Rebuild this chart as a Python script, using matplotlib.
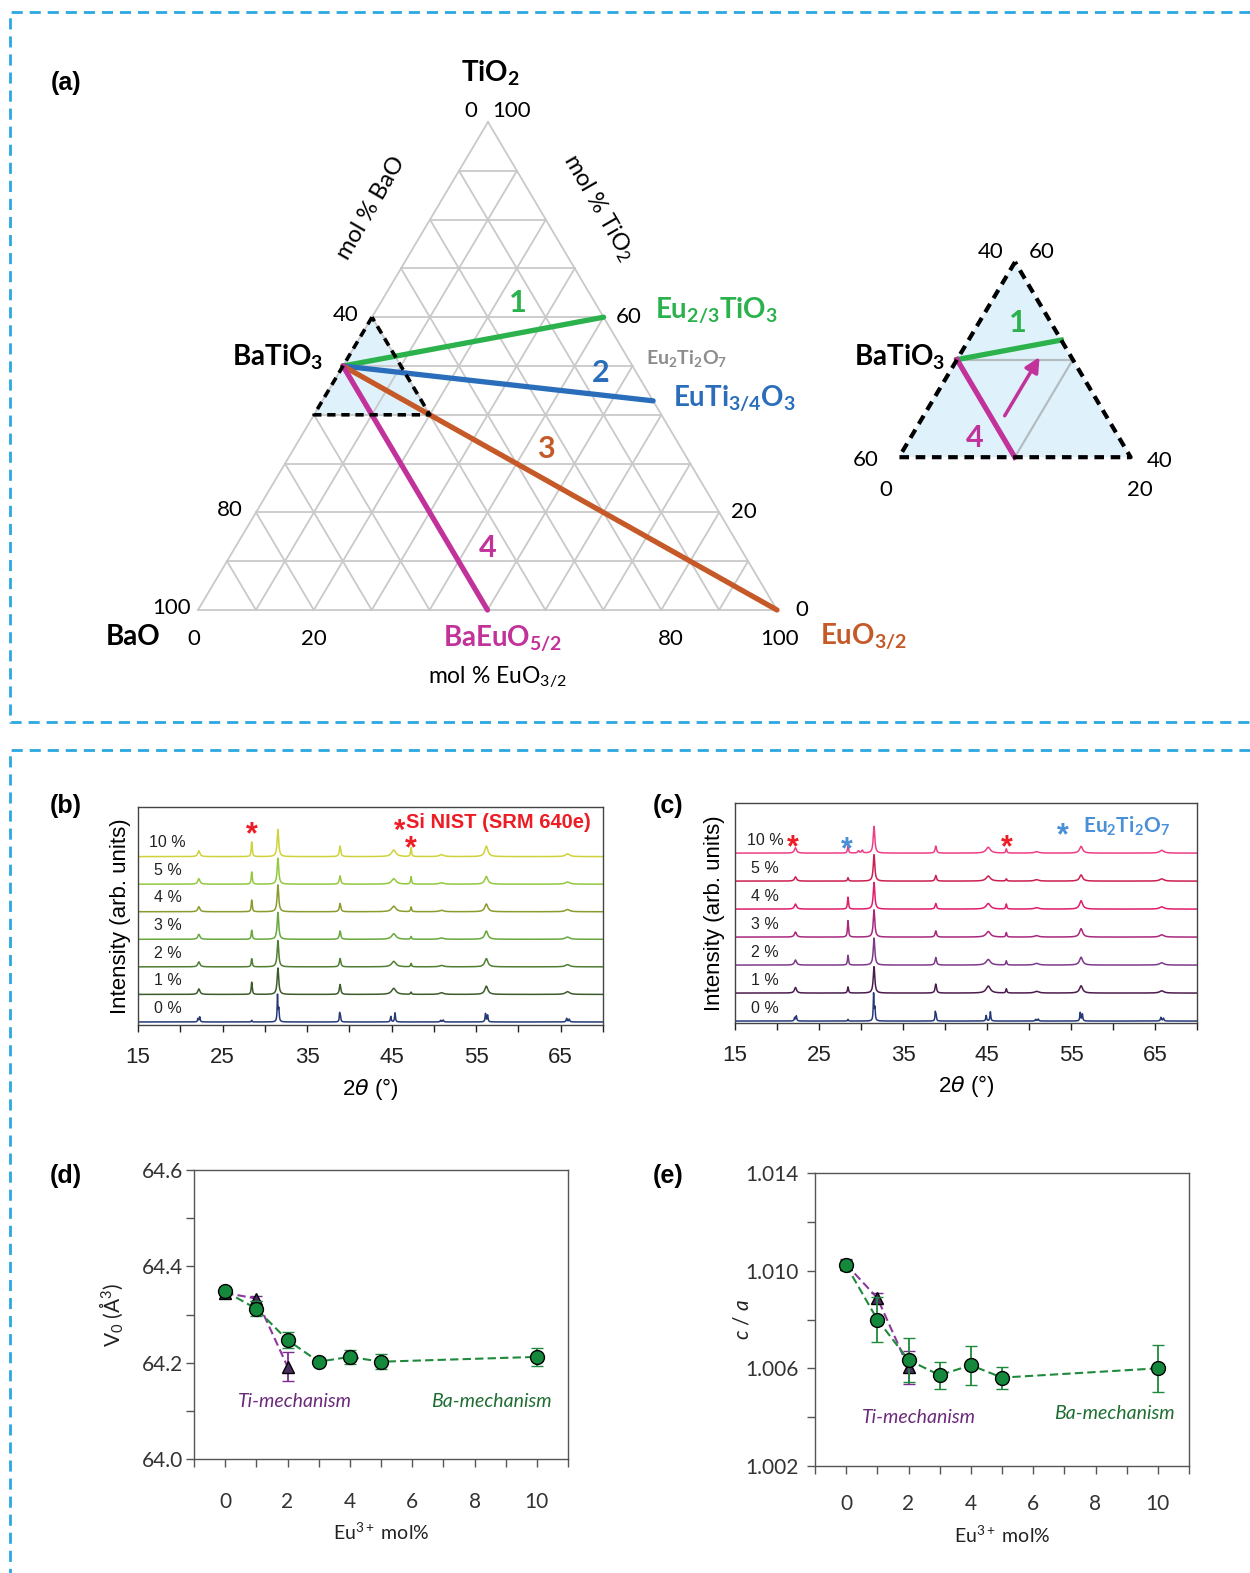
import numpy as np
import matplotlib.pyplot as plt
from matplotlib.patches import Polygon

plt.rcParams['font.family'] = ['Liberation Sans', 'DejaVu Sans']
plt.rcParams['mathtext.fontset'] = 'custom'
plt.rcParams['mathtext.rm'] = 'Lato'
plt.rcParams['mathtext.it'] = 'Lato:italic'
plt.rcParams['mathtext.bf'] = 'Lato:bold'

# ---------------- data ----------------
# ternary compositions as (BaO, TiO2, EuO3/2) mol %
batio3 = (50, 50, 0)
end_bao = [0, 0, 0, 50]
end_tio2 = [60, 42.86, 0, 0]
end_euo = [40, 57.14, 100, 50]
tie_colors = ['#2bb24c', '#2a6ebb', '#c55a28', '#c2329b']

zoom_bao = [40, 60, 40]
zoom_tio2 = [60, 40, 40]
zoom_euo = [0, 0, 20]

# XRD: 2theta peak positions, half widths and heights (in units of trace spacing)
xrd_labels = ['0 %', '1 %', '2 %', '3 %', '4 %', '5 %', '10 %']

pos_0 = [22.1, 22.3, 28.45, 31.5, 31.65, 38.85, 38.95, 44.9, 45.4, 50.8, 51.1, 56.1, 56.35, 65.7, 66.0]
hw_0 = [0.06, 0.06, 0.05, 0.05, 0.06, 0.05, 0.05, 0.06, 0.06, 0.07, 0.07, 0.06, 0.06, 0.07, 0.07]
h_0 = [0.12, 0.18, 0.06, 0.95, 0.45, 0.32, 0.18, 0.2, 0.33, 0.06, 0.07, 0.3, 0.25, 0.13, 0.1]

pos_b = [22.2, 28.45, 31.55, 38.9, 45.25, 47.3, 50.9, 56.2, 65.8]
hw_b = [0.15, 0.07, 0.11, 0.1, 0.3, 0.07, 0.3, 0.22, 0.3]
h_b = [
    [0.2, 0.45, 0.96, 0.36, 0.22, 0.08, 0.06, 0.3, 0.1],
    [0.18, 0.3, 0.96, 0.3, 0.2, 0.12, 0.05, 0.3, 0.08],
    [0.18, 0.33, 0.98, 0.3, 0.2, 0.1, 0.05, 0.3, 0.08],
    [0.18, 0.43, 0.98, 0.3, 0.2, 0.17, 0.05, 0.28, 0.08],
    [0.2, 0.45, 0.95, 0.3, 0.2, 0.27, 0.05, 0.28, 0.08],
    [0.21, 0.54, 0.99, 0.38, 0.24, 0.32, 0.07, 0.38, 0.1],
]
colors_b = ['#263a78', '#3d5c2c', '#4f7f33', '#68a83e', '#8c9a2e', '#93c83f', '#cfd23a']

pos_c = [22.2, 28.45, 29.7, 30.15, 31.55, 38.9, 45.15, 47.3, 50.9, 56.2, 65.8]
hw_c = [0.15, 0.07, 0.1, 0.1, 0.11, 0.1, 0.3, 0.07, 0.3, 0.22, 0.3]
h_c = [
    [0.2, 0.22, 0, 0, 0.95, 0.32, 0.25, 0.15, 0.06, 0.26, 0.08],
    [0.18, 0.35, 0, 0, 0.97, 0.27, 0.2, 0.15, 0.06, 0.28, 0.08],
    [0.18, 0.6, 0, 0, 0.98, 0.22, 0.2, 0.16, 0.05, 0.3, 0.08],
    [0.18, 0.43, 0, 0, 0.96, 0.2, 0.2, 0.18, 0.05, 0.3, 0.08],
    [0.15, 0.12, 0, 0, 0.95, 0.2, 0.18, 0.08, 0.05, 0.22, 0.08],
    [0.19, 0.26, 0.08, 0.1, 0.96, 0.25, 0.21, 0.15, 0.05, 0.24, 0.1],
]
colors_c = ['#263a78', '#4a1c4c', '#7e3a8a', '#a8287e', '#e01e6c', '#cc1e50', '#ee3f86']

# lattice parameters vs Eu content
x_ba = [0, 1, 2, 3, 4, 5, 10]
x_ti = [0, 1, 2]
v0_ba = [64.348, 64.312, 64.247, 64.202, 64.212, 64.202, 64.212]
v0_ba_err = [0.006, 0.016, 0.016, 0.007, 0.014, 0.015, 0.018]
v0_ti = [64.345, 64.333, 64.192]
v0_ti_err = [0.004, 0.006, 0.03]
ca_ba = [1.01022, 1.0080, 1.00634, 1.00572, 1.00613, 1.00562, 1.00600]
ca_ba_err = [0.0002, 0.00093, 0.0009, 0.00055, 0.0008, 0.00045, 0.00096]
ca_ti = [1.01026, 1.00888, 1.00604]
ca_ti_err = [0.0002, 0.0002, 0.00067]

# ---------------- figure ----------------
W, H = 1250, 1573
fig = plt.figure(figsize=(W / 100, H / 100), dpi=100)

ax0 = fig.add_axes([0, 0, 1, 1])
ax0.set_xlim(0, W)
ax0.set_ylim(H, 0)
ax0.axis('off')

# dashed frames
fr = dict(color='#2aa8e0', lw=2, ls=(0, (4, 2.5)))
ax0.plot([W, 10, 10, W], [12, 12, 722, 722], **fr)
ax0.plot([W, 10, 10], [750, 750, H], **fr)

for lab, x, y in [('(a)', 66, 83), ('(b)', 66, 806), ('(c)', 668, 806), ('(d)', 66, 1176), ('(e)', 668, 1176)]:
    ax0.text(x, y, lab, fontsize=18, fontweight='bold', ha='center', va='center')

# ternary corners in pixel space
L_pt, T_pt, R_pt = np.array([198., 610.]), np.array([488., 122.]), np.array([777., 610.])


def tern(bao, tio2, euo):
    return (bao * L_pt + tio2 * T_pt + euo * R_pt) / (bao + tio2 + euo)


def seg(ax, a, b, **kw):
    ax.plot([a[0], b[0]], [a[1], b[1]], **kw)


zoom_pts = [tern(b, t, e) for b, t, e in zip(zoom_bao, zoom_tio2, zoom_euo)]
ax0.add_patch(Polygon(zoom_pts, closed=True, fc='#dff1fb', ec='none', zorder=1))

for k in range(0, 100, 10):
    seg(ax0, tern(100 - k, k, 0), tern(0, k, 100 - k), color='#c9c9c9', lw=1.3, zorder=2)
    seg(ax0, tern(k, 100 - k, 0), tern(k, 0, 100 - k), color='#c9c9c9', lw=1.3, zorder=2)
    seg(ax0, tern(100 - k, 0, k), tern(0, 100 - k, k), color='#c9c9c9', lw=1.3, zorder=2)

p0 = tern(*batio3)
for b, t, e, c in zip(end_bao, end_tio2, end_euo, tie_colors):
    seg(ax0, p0, tern(b, t, e), color=c, lw=3.8, solid_capstyle='round', zorder=3)

zx = [p[0] for p in zoom_pts] + [zoom_pts[0][0]]
zy = [p[1] for p in zoom_pts] + [zoom_pts[0][1]]
ax0.plot(zx, zy, color='k', lw=2.6, ls=(0, (2.3, 1.6)), zorder=4)

# axis tick labels of the ternary
tk = dict(fontsize=16, family='Lato', ha='center', va='baseline')
for v in [100, 80, 40]:
    p = tern(v, 100 - v, 0)
    ax0.text(p[0] - 26, p[1] + 4, str(v), **tk)
for v in [60, 20, 0]:
    p = tern(0, v, 100 - v)
    ax0.text(p[0] + 25, p[1] + 6, str(v), **tk)
for v, dx in zip([0, 20, 80, 100], [-4, 0, 10, 3]):
    p = tern(100 - v, 0, v)
    ax0.text(p[0] + dx, p[1] + 35, str(v), **tk)
ax0.text(471, 117, '0', **tk)
ax0.text(512, 117, '100', **tk)

bold = dict(fontsize=20, family='Lato', fontweight='bold', va='baseline')
ax0.text(490, 82, r'TiO$_\mathbf{2}$', ha='center', **bold)
ax0.text(323, 366, r'BaTiO$_\mathbf{3}$', ha='right', **bold)
ax0.text(133, 645, 'BaO', ha='center', **bold)
ax0.text(655, 318, r'Eu$_\mathbf{2/3}$TiO$_\mathbf{3}$', ha='left', color=tie_colors[0], **bold)
ax0.text(673, 407, r'EuTi$_\mathbf{3/4}$O$_\mathbf{3}$', ha='left', color=tie_colors[1], **bold)
ax0.text(503, 647, r'BaEuO$_\mathbf{5/2}$', ha='center', color=tie_colors[3], **bold)
ax0.text(820, 645, r'EuO$_\mathbf{3/2}$', ha='left', color=tie_colors[2], **bold)
ax0.text(646, 364, r'Eu$_\mathbf{2}$Ti$_\mathbf{2}$O$_\mathbf{7}$', ha='left', fontsize=14,
         family='Lato', fontweight='bold', color='#8c8c8c', va='baseline')

num = dict(fontsize=22, family='Lato', fontweight='bold', ha='center', va='baseline')
for s, x, y, c in [('1', 518, 312, tie_colors[0]), ('2', 601, 382, tie_colors[1]),
                   ('3', 546, 458, tie_colors[2]), ('4', 488, 557, tie_colors[3])]:
    ax0.text(x, y, s, color=c, **num)

ax0.text(497, 683, r'mol % EuO$_{3/2}$', fontsize=16.5, family='Lato', ha='center', va='baseline')
ax0.text(371, 208, 'mol % BaO', fontsize=17, family='Lato', rotation=60, ha='center', va='center',
         rotation_mode='anchor')
ax0.text(598, 207, r'mol % TiO$_2$', fontsize=17, family='Lato', rotation=-60, ha='center',
         va='center', rotation_mode='anchor')

# magnified BaTiO3 corner
ins_anchor = np.array([1015., 262.])


def inset(bao, tio2, euo):
    return ins_anchor + 2.0 * (tern(bao, tio2, euo) - zoom_pts[0])


ins_pts = [inset(b, t, e) for b, t, e in zip(zoom_bao, zoom_tio2, zoom_euo)]
ax0.add_patch(Polygon(ins_pts, closed=True, fc='#dff1fb', ec='none', zorder=1))
seg(ax0, inset(50, 50, 0), inset(40, 50, 10), color='#b3bcc0', lw=1.6, zorder=2)
seg(ax0, inset(40, 50, 10), inset(50, 40, 10), color='#b3bcc0', lw=1.6, zorder=2)
seg(ax0, inset(50, 50, 0), inset(40, 52, 8), color=tie_colors[0], lw=3.8, zorder=3)
seg(ax0, inset(50, 50, 0), inset(50, 40, 10), color=tie_colors[3], lw=3.8, zorder=3)
a0, a1 = inset(49, 44, 7), inset(42.5, 50.5, 7)
ax0.annotate('', xy=a1, xytext=a0, zorder=3,
             arrowprops=dict(arrowstyle='-|>', color=tie_colors[3], lw=2.5, mutation_scale=22))
ix = [p[0] for p in ins_pts] + [ins_pts[0][0]]
iy = [p[1] for p in ins_pts] + [ins_pts[0][1]]
ax0.plot(ix, iy, color='k', lw=3, ls=(0, (2.3, 1.6)), zorder=4)

ax0.text(945, 365, r'BaTiO$_\mathbf{3}$', ha='right', **bold)
ax0.text(1018, 332, '1', color=tie_colors[0], **num)
ax0.text(975, 447, '4', color=tie_colors[3], **num)
for s, x, y in [('40', 991, 258), ('60', 1042, 258), ('60', 866, 466), ('0', 886, 496),
                ('40', 1160, 467), ('20', 1140, 496)]:
    ax0.text(x, y, s, **tk)

# ---------------- XRD panels ----------------
tt = np.linspace(15, 70, 2751)


def pattern(pos, hw, hts):
    y = np.zeros_like(tt)
    for p, w, h in zip(pos, hw, hts):
        y += h / (1 + ((tt - p) / w) ** 2)
    return y


def px_axes(l, t, r, b):
    return fig.add_axes([l / W, 1 - b / H, (r - l) / W, (b - t) / H])


def xrd_axes(l, t, r, b, ylim, ylab_x, xlab_y):
    ax = px_axes(l, t, r, b)
    ax.set_xlim(15, 70)
    ax.set_ylim(*ylim)
    ax.set_yticks([])
    ax.set_xticks(np.arange(15, 70, 10))
    ax.set_xticks(np.arange(20, 71, 10), minor=True)
    ax.tick_params(axis='x', which='both', direction='out', length=5, width=1,
                   labelsize=16, colors='#222', pad=11)
    for s in ax.spines.values():
        s.set_linewidth(1.0)
        s.set_color('#444')
    ax.set_xlabel(r'2$\theta$ (°)', fontsize=16, math_fontfamily='dejavusans')
    ax.set_ylabel('Intensity (arb. units)', fontsize=16)
    ax.yaxis.set_label_coords(ylab_x, 0.5)
    ax.xaxis.set_label_coords(0.5, xlab_y)
    return ax


def star(ax, x, y, color, size=22):
    ax.annotate('*', xy=(x, y), xytext=(0, -13), textcoords='offset points', ha='center',
                va='baseline', fontsize=size, fontweight='bold', color=color)


axb = xrd_axes(138, 807, 603, 1025, (-0.11, 7.8), -0.015, -0.235)
axb.plot(tt, pattern(pos_0, hw_0, h_0), color=colors_b[0], lw=1.1)
for i, hts in enumerate(h_b, start=1):
    axb.plot(tt, i + pattern(pos_b, hw_b, hts), color=colors_b[i], lw=1.1)
for i, lab in enumerate(xrd_labels):
    axb.text(18.5, i + 0.5, lab, fontsize=11.5, ha='center', va='center', color='#222')
star(axb, 28.5, 7.13, '#ee1c24')
star(axb, 47.3, 6.62, '#ee1c24')
axb.annotate('*', xy=(0.562, 0.93), xycoords='axes fraction', xytext=(0, -12),
             textcoords='offset points', ha='center', va='baseline', fontsize=21,
             fontweight='bold', color='#ee1c24')
axb.text(0.576, 0.93, 'Si NIST (SRM 640e)', transform=axb.transAxes, ha='left', va='center',
         fontsize=14.5, fontweight='bold', color='#ee1c24')

axc = xrd_axes(735, 803, 1197, 1023, (-0.07, 7.79), -0.022, -0.228)
axc.plot(tt, pattern(pos_0, hw_0, h_0), color=colors_c[0], lw=1.1)
for i, hts in enumerate(h_c, start=1):
    axc.plot(tt, i + pattern(pos_c, hw_c, hts), color=colors_c[i], lw=1.1)
for i, lab in enumerate(xrd_labels):
    axc.text(18.6, i + 0.46, lab, fontsize=11.5, ha='center', va='center', color='#222')
star(axc, 21.9, 6.54, '#ee1c24')
star(axc, 47.3, 6.54, '#ee1c24')
star(axc, 28.3, 6.46, '#4a90d9')
axc.annotate('*', xy=(0.71, 0.895), xycoords='axes fraction', xytext=(0, -13),
             textcoords='offset points', ha='center', va='baseline', fontsize=22,
             fontweight='bold', color='#4a90d9')
axc.text(0.753, 0.895, r'Eu$_\mathbf{2}$Ti$_\mathbf{2}$O$_\mathbf{7}$', transform=axc.transAxes,
         ha='left', va='center', fontsize=15, family='Lato', fontweight='bold', color='#4a90d9')


# ---------------- lattice parameter panels ----------------
def lattice_axes(l, t, r, b, ylim, major, minor, fmt, ylab, ylab_x, xlab_y, xpad, ypad):
    ax = px_axes(l, t, r, b)
    ax.set_xlim(-1, 11)
    ax.set_ylim(*ylim)
    ax.set_xticks(range(0, 11, 2))
    ax.set_xticks([-1, 1, 3, 5, 7, 9, 11], minor=True)
    ax.set_yticks(major)
    ax.set_yticklabels([fmt % v for v in major])
    ax.set_yticks(minor, minor=True)
    ax.tick_params(which='both', direction='out', width=1, colors='#555', labelsize=15,
                   labelcolor='#333', length=6)
    ax.tick_params(axis='x', which='major', pad=xpad)
    ax.tick_params(axis='y', which='major', pad=ypad)
    for lab in ax.get_xticklabels() + ax.get_yticklabels():
        lab.set_family('Lato')
    for s in ax.spines.values():
        s.set_linewidth(1.0)
        s.set_color('#555')
    ax.set_xlabel(r'Eu$^{3+}$ mol%', fontsize=14, family='Lato', color='#222')
    ax.set_ylabel(ylab, fontsize=15, family='Lato', color='#222')
    ax.yaxis.set_label_coords(ylab_x, 0.5)
    ax.xaxis.set_label_coords(0.5, xlab_y)
    return ax


def mech_series(ax, yti, yti_err, yba, yba_err):
    dash = (0, (4, 2))
    ax.plot(x_ti, yti, ls=dash, color='#8b3a9b', lw=1.5, zorder=2)
    ax.errorbar(x_ti, yti, yerr=yti_err, fmt='^', ms=9, mfc='#4b2d5f', mec='k', mew=1,
                ecolor='#7b2d8e', elinewidth=1.3, capsize=4, capthick=1.3, zorder=3)
    ax.plot(x_ba, yba, ls=dash, color='#1f8a3c', lw=1.5, zorder=4)
    ax.errorbar(x_ba, yba, yerr=yba_err, fmt='o', ms=10, mfc='#15893b', mec='k', mew=1,
                ecolor='#1f8a3c', elinewidth=1.3, capsize=4, capthick=1.3, zorder=5)


axd = lattice_axes(194, 1170, 568, 1459, (64.0, 64.6), [64.0, 64.2, 64.4, 64.6],
                   [64.1, 64.3, 64.5], '%.1f', r'V$_0$ (Å$^3$)', -0.185, -0.215, 18, 1.5)
mech_series(axd, v0_ti, v0_ti_err, v0_ba, v0_ba_err)
axd.text(2.25, 64.12, 'Ti-mechanism', style='italic', color='#6b2a7b', fontsize=14,
         family='Lato', ha='center', va='center')
axd.text(8.55, 64.12, 'Ba-mechanism', style='italic', color='#1e6e32', fontsize=14,
         family='Lato', ha='center', va='center')

axe = lattice_axes(815, 1173, 1189, 1466, (1.002, 1.014), [1.002, 1.006, 1.010, 1.014],
                   [1.004, 1.008, 1.012], '%.3f', r'$\mathit{c}$ / $\mathit{a}$', -0.168, -0.2,
                   14, 6)
mech_series(axe, ca_ti, ca_ti_err, ca_ba, ca_ba_err)
axe.text(2.35, 1.0040, 'Ti-mechanism', style='italic', color='#6b2a7b', fontsize=14,
         family='Lato', ha='center', va='center')
axe.text(8.6, 1.00414, 'Ba-mechanism', style='italic', color='#1e6e32', fontsize=14,
         family='Lato', ha='center', va='center')

fig.savefig('out.png', dpi=100)
